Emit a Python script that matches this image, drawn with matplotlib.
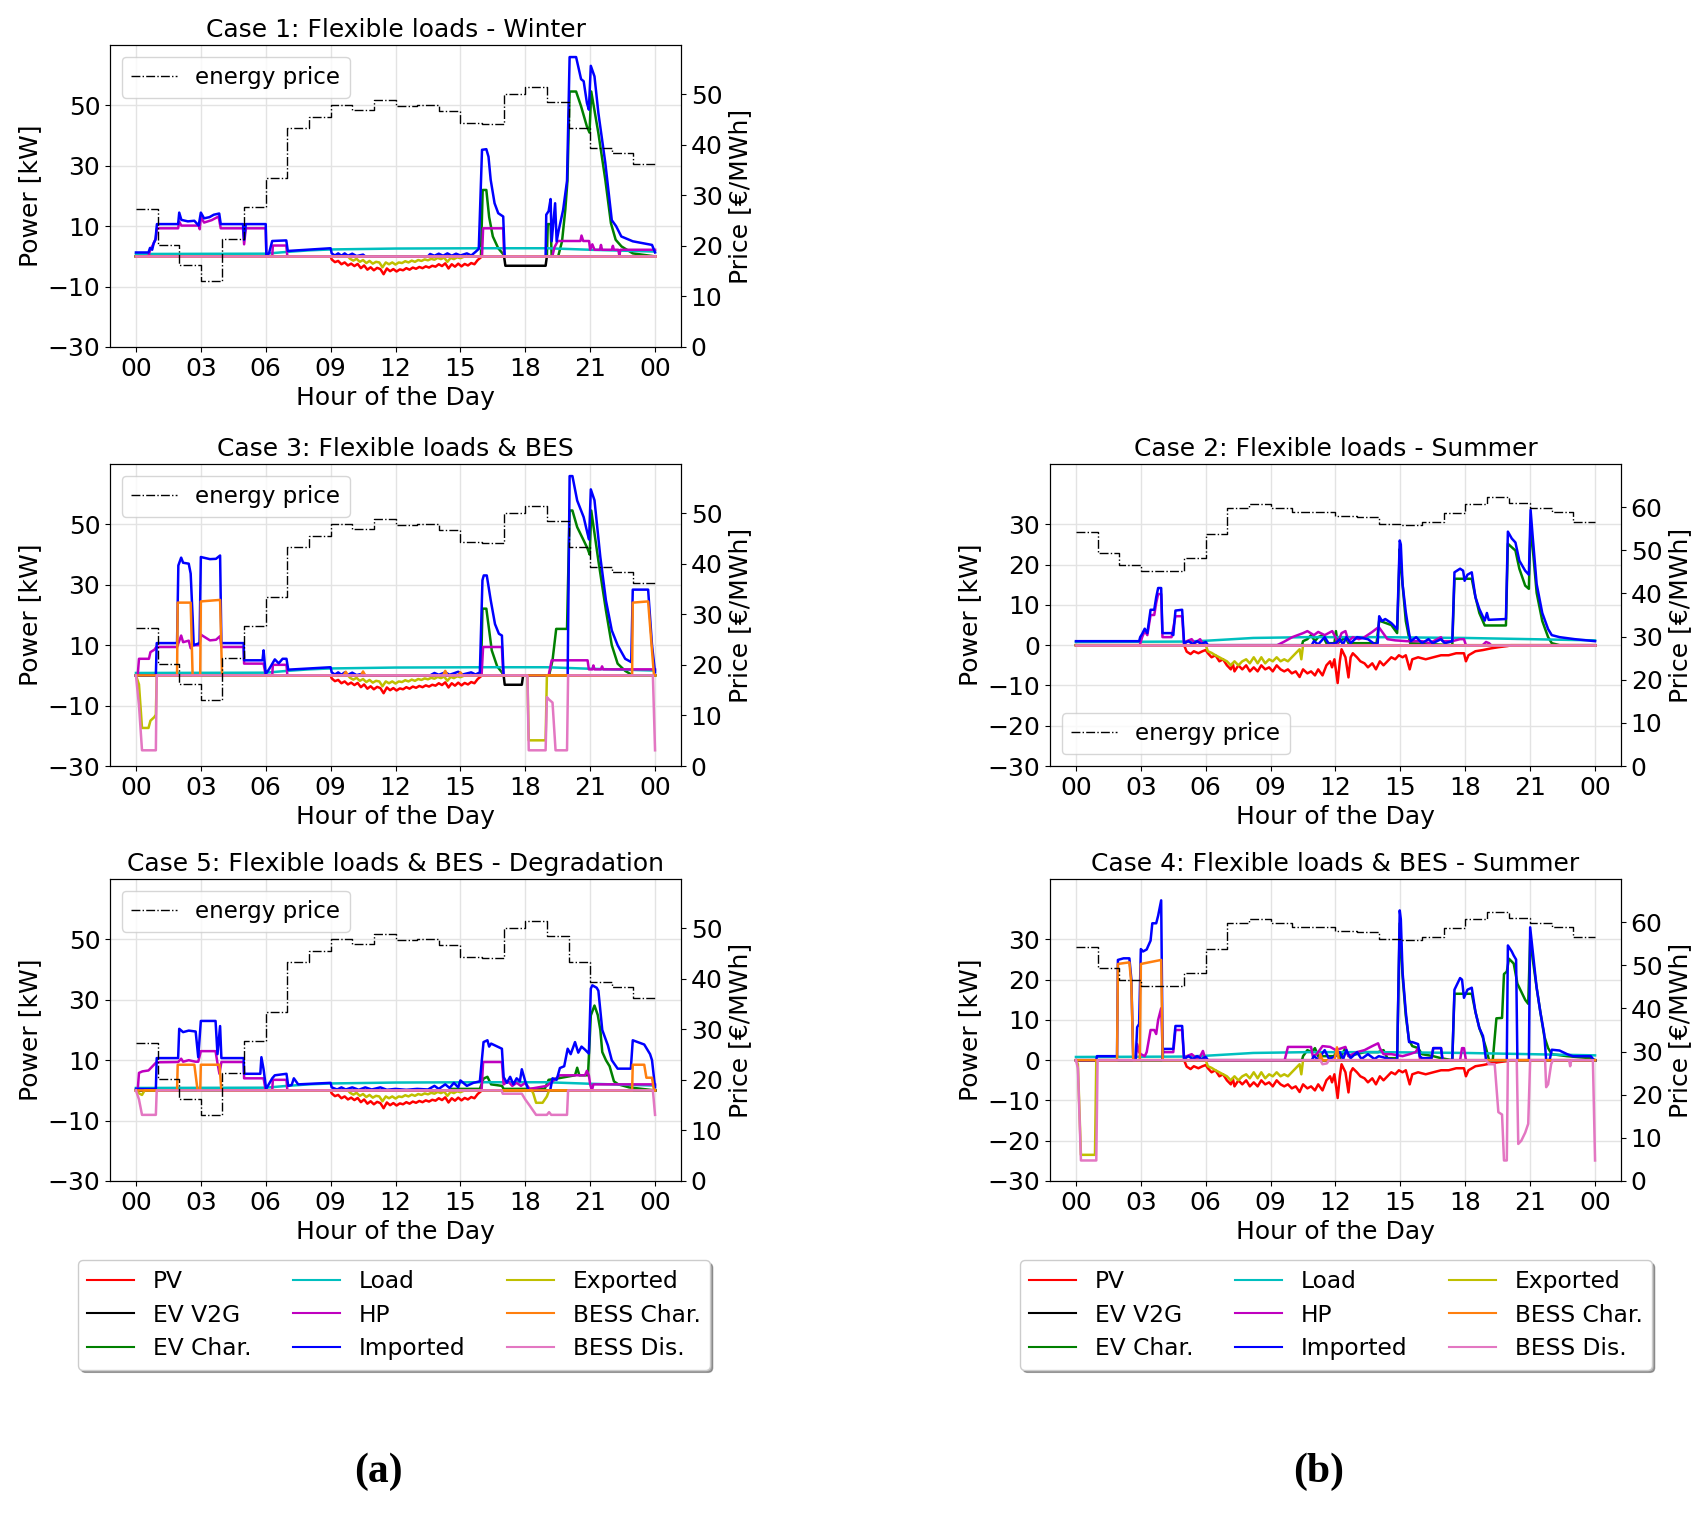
import numpy as np
import matplotlib
matplotlib.use("Agg")
import matplotlib.pyplot as plt
from matplotlib.lines import Line2D

# ---------------- data (hour, kW) ----------------
series_names = ['PV', 'EV V2G', 'EV Char.', 'Load', 'HP', 'Imported', 'Exported', 'BESS Char.', 'BESS Dis.']
series_colors = ['r', 'k', 'g', 'c', 'm', 'b', 'y', 'tab:orange', 'tab:pink']
hour_ticks = ['00', '03', '06', '09', '12', '15', '18', '21', '00']

# hourly energy price [EUR/MWh]
price_winter = [27.3, 20.1, 16.3, 13.1, 21.3, 27.7, 33.4, 43.3, 45.5, 47.9, 47.0, 49.0,
                47.7, 47.9, 46.8, 44.4, 44.1, 50.1, 51.5, 48.5, 43.4, 39.5, 38.4, 36.2]
price_summer = [54.3, 49.3, 46.5, 45.2, 45.2, 48.2, 53.8, 59.7, 60.8, 59.8, 58.8, 58.8,
                58.0, 57.7, 56.1, 55.9, 56.5, 58.7, 60.7, 62.3, 61.0, 59.8, 58.8, 56.5]

zero = [(0, 0), (24, 0)]

# winter (shared by cases 1, 3, 5)
w_pv = [(0, 0), (9.0, 0), (9.05, -1.0), (9.2, -1.9), (9.35, -1.5), (9.5, -2.6), (9.65, -2.0), (9.8, -3.0),
        (9.95, -2.4), (10.1, -3.2), (10.25, -2.5), (10.4, -3.9), (10.55, -3.0), (10.7, -4.4), (10.85, -3.6),
        (11.0, -4.6), (11.15, -3.8), (11.3, -4.2), (11.45, -5.9), (11.6, -4.0), (11.75, -4.9), (11.9, -4.2),
        (12.05, -5.0), (12.2, -4.3), (12.35, -4.6), (12.5, -3.9), (12.65, -4.4), (12.8, -3.7), (12.95, -4.1),
        (13.1, -3.5), (13.25, -3.9), (13.4, -3.3), (13.55, -3.7), (13.7, -3.1), (13.85, -3.4), (14.0, -2.6),
        (14.15, -3.2), (14.3, -2.3), (14.45, -4.0), (14.6, -2.6), (14.75, -3.4), (14.9, -2.4), (15.05, -3.3),
        (15.2, -2.5), (15.35, -3.0), (15.5, -2.2), (15.65, -2.6), (15.8, -1.2), (16.0, 0), (24, 0)]
w_exp_mid = [(9.9, -0.8), (10.05, -1.4), (10.2, -0.8), (10.35, -1.8), (10.5, -1.2), (10.65, -2.2), (10.8, -1.5),
             (10.95, -2.4), (11.1, -1.8), (11.25, -2.0), (11.4, -3.6), (11.55, -2.0), (11.7, -2.6), (11.85, -2.0),
             (12.0, -2.7), (12.15, -2.0), (12.3, -2.2), (12.45, -1.6), (12.6, -2.0), (12.75, -1.4), (12.9, -1.8),
             (13.05, -1.2), (13.2, -1.5), (13.35, -1.0), (13.5, -1.3), (13.65, -0.8), (13.8, -1.1), (13.95, -0.5),
             (14.1, -0.9), (14.25, -0.4), (14.4, -1.8), (14.55, -0.5), (14.7, -0.9), (14.85, -0.3), (15.0, -0.6)]
w_load = [(0, 0.8), (6.0, 0.9), (7.0, 1.5), (8.0, 2.0), (9.0, 2.3), (12.0, 2.6), (16.0, 2.7), (19.0, 2.7),
          (21.0, 2.2), (24.0, 1.6)]

# Case 1
c1_imp = [(0, 1.3), (0.58, 1.3), (0.65, 2.8), (0.75, 2.2), (0.82, 4.4), (0.9, 5.5), (0.97, 10.7), (1.95, 10.7),
          (2.0, 14.5), (2.1, 12.1), (2.4, 11.6), (2.7, 11.8), (2.9, 10.2), (3.0, 14.5), (3.15, 12.6), (3.4, 13.0),
          (3.6, 13.8), (3.85, 14.2), (3.92, 10.7), (4.95, 10.7), (5.0, 5.5), (5.08, 10.7), (6.0, 10.7), (6.03, 0.3),
          (6.15, 1.0), (6.3, 5.1), (6.95, 5.3), (7.02, 1.8), (9.0, 2.7), (9.05, 1.0), (9.2, 0.3), (9.35, 1.0),
          (9.5, 0.2), (9.65, 1.0), (9.8, 0.2), (10.0, 0.9), (10.2, 0.1), (10.5, 0.6), (10.6, 0), (13.5, 0),
          (13.6, 0.8), (13.8, 0.2), (14.0, 0.9), (14.2, 0.2), (14.4, 1.0), (14.6, 0.2), (14.8, 0.9), (15.0, 0.3),
          (15.3, 1.0), (15.5, 0.3), (15.7, 1.5), (15.85, 2.5), (16.0, 35.3), (16.2, 35.5), (16.3, 33.0),
          (16.4, 25.4), (16.58, 17.6), (16.75, 14.3), (16.98, 13.2), (17.05, 0), (18.94, 0), (18.97, 13.8),
          (19.08, 15.0), (19.17, 19.0), (19.22, 5.0), (19.38, 17.6), (19.45, 5.0), (19.55, 8.8), (19.75, 15.4),
          (19.93, 25.0), (20.05, 66.0), (20.35, 66.0), (20.58, 58.7), (20.7, 58.0), (20.85, 50.8), (20.94, 48.6),
          (21.03, 63.1), (21.2, 59.6), (21.38, 47.5), (21.7, 31.0), (22.0, 12.0), (22.2, 10.0), (22.44, 6.6),
          (22.97, 5.0), (23.86, 3.8), (24.0, 1.3)]
c1_evc = [(0, 0), (15.95, 0), (16.03, 22.0), (16.2, 22.0), (16.33, 13.0), (16.5, 6.6), (16.75, 2.7), (16.95, 1.0),
          (17.05, 0), (19.0, 0), (19.04, 10.7), (19.17, 10.7), (19.22, 0), (19.52, 0), (19.7, 5.0), (19.85, 15.4),
          (19.95, 25.0), (20.05, 54.6), (20.35, 54.6), (20.58, 49.7), (20.85, 43.0), (20.97, 41.0), (21.05, 54.6),
          (21.38, 40.8), (21.7, 25.4), (21.96, 11.0), (22.18, 5.5), (22.45, 3.3), (22.97, 1.0), (24.0, 0)]
c1_hp = [(0, 0), (0.58, 0), (0.65, 2.0), (0.8, 4.0), (0.92, 6.0), (0.97, 9.3), (1.95, 9.3), (2.0, 11.5),
         (2.1, 10.2), (2.9, 10.2), (2.95, 9.0), (3.0, 13.0), (3.15, 11.2), (3.5, 12.0), (3.82, 13.2), (3.92, 9.3),
         (4.95, 9.3), (5.0, 4.0), (5.08, 9.3), (6.0, 9.3), (6.03, 0), (6.3, 0), (6.33, 3.6), (6.95, 3.6), (7.0, 0),
         (16.0, 0), (16.05, 9.3), (16.98, 9.3), (17.02, 0), (19.25, 0), (19.35, 3.0), (19.5, 5.1), (20.55, 5.1),
         (20.6, 6.9), (20.68, 5.1), (20.95, 5.1), (21.0, 2.2), (21.1, 4.0), (21.2, 2.2), (21.45, 2.2), (21.5, 3.8),
         (21.55, 2.2), (22.0, 2.2), (22.05, 3.5), (22.1, 2.2), (22.3, 2.2), (22.35, 0.3), (22.4, 2.2), (24.0, 2.2)]
c1_v2g = [(0, 0), (17.02, 0), (17.08, -3.1), (18.94, -3.1), (19.0, 0), (24, 0)]
c1_exp = [(0, 0), (9.8, 0)] + w_exp_mid + [(15.2, 0), (24, 0)]

# Case 3
c3_imp = [(0, 0), (0.92, 0), (0.96, 10.7), (1.9, 10.7), (1.96, 36.4), (2.09, 39.0), (2.18, 37.3), (2.44, 37.0),
          (2.53, 33.7), (2.62, 19.3), (2.67, 10.0), (2.94, 10.7), (3.0, 39.2), (3.42, 38.5), (3.7, 38.6),
          (3.89, 39.7), (3.95, 10.7), (4.98, 10.7), (5.0, 5.0), (5.85, 5.0), (5.9, 8.3), (6.0, 0.5), (6.15, 2.0),
          (6.42, 5.3), (6.6, 4.0), (6.78, 5.5), (6.96, 5.5), (7.04, 1.9), (9.0, 2.7), (9.05, 1.0), (9.2, 0.3),
          (9.35, 1.0), (9.5, 0.2), (9.65, 1.0), (9.8, 0.2), (10.0, 0.9), (10.2, 0.1), (10.5, 0.6), (10.6, 0),
          (13.6, 0), (13.8, 0.8), (14.0, 0.2), (14.3, 1.0), (14.5, 0.2), (14.9, 1.2), (15.1, 0.3), (15.5, 1.0),
          (15.7, 0.3), (15.9, 1.0), (16.02, 31.5), (16.08, 33.1), (16.22, 33.1), (16.4, 25.0), (16.6, 17.0),
          (16.78, 13.8), (16.92, 13.2), (17.0, 0), (19.96, 0), (20.05, 66.0), (20.18, 66.0), (20.4, 57.9),
          (20.7, 52.4), (20.88, 46.9), (20.95, 45.0), (21.03, 61.6), (21.2, 58.0), (21.47, 39.2), (21.73, 24.8),
          (22.0, 14.9), (22.27, 10.0), (22.62, 5.5), (22.9, 4.4), (22.97, 28.4), (23.68, 28.4), (23.86, 10.0),
          (24.0, 1.0)]
c3_evc = [(0, 0), (15.95, 0), (16.02, 22.1), (16.2, 22.1), (16.33, 15.0), (16.45, 8.3), (16.7, 3.0), (16.92, 1.0),
          (17.0, 0), (19.1, 0), (19.26, 5.0), (19.43, 15.4), (19.93, 15.4), (19.99, 35.0), (20.05, 54.6),
          (20.18, 54.6), (20.4, 49.1), (20.7, 44.7), (20.88, 42.0), (20.98, 40.0), (21.05, 54.6), (21.38, 38.0),
          (21.73, 21.5), (22.0, 10.0), (22.27, 3.9), (22.62, 1.5), (22.97, 0), (24, 0)]
c3_hp = [(0, 0), (0.08, 0), (0.14, 5.5), (0.6, 5.5), (0.67, 7.7), (0.85, 8.5), (0.94, 9.4), (1.9, 9.4),
         (2.09, 13.2), (2.18, 11.0), (2.44, 11.5), (2.53, 9.0), (2.62, 10.0), (2.94, 10.0), (3.0, 13.5),
         (3.42, 11.6), (3.7, 11.8), (3.89, 13.0), (3.95, 9.4), (4.98, 9.4), (5.0, 3.9), (5.9, 3.9), (6.0, 0),
         (6.3, 0), (6.33, 3.5), (6.96, 3.5), (7.0, 0), (15.98, 0), (16.05, 9.4), (16.92, 9.4), (16.98, 0),
         (19.08, 0), (19.22, 5.0), (20.88, 5.0), (20.94, 2.0), (21.1, 2.0), (21.15, 3.3), (21.2, 2.0), (21.5, 2.0),
         (21.55, 3.0), (21.6, 2.0), (24, 2.0)]
c3_bch = [(0, 0), (1.9, 0), (1.93, 24.1), (2.53, 24.1), (2.62, 0), (2.97, 0), (3.0, 24.5), (3.89, 25.0),
          (3.98, 0), (9.6, 0), (9.7, 1.2), (9.8, 0), (10.4, 0), (10.5, 1.3), (10.6, 0), (14.2, 0), (14.3, 1.5),
          (14.4, 0), (14.9, 0), (15.0, 1.0), (15.1, 0), (22.94, 0), (22.97, 24.1), (23.68, 24.5), (23.95, 0),
          (24, 0)]
c3_bdis = [(0, 0), (0.14, -10.0), (0.28, -24.8), (0.92, -24.8), (0.96, 0), (18.1, 0), (18.16, -24.8),
           (18.94, -24.8), (19.0, -7.2), (19.1, -8.0), (19.26, -9.0), (19.4, -24.8), (19.93, -24.8), (19.98, 0),
           (23.9, 0), (24.0, -24.8)]
c3_exp = ([(0, 0), (0.14, -3.0), (0.28, -17.4), (0.58, -17.4), (0.67, -15.0), (0.85, -13.8), (0.92, -13.0),
           (0.96, 0), (9.8, 0)] + w_exp_mid +
          [(15.2, 0), (18.1, 0), (18.16, -21.5), (18.94, -21.5), (19.0, 0), (24, 0)])
c3_v2g = [(0, 0), (17.0, 0), (17.05, -3.1), (17.84, -3.1), (17.9, 0), (24, 0)]

# Case 5
c5_imp = [(0, 0.5), (0.92, 0.5), (0.96, 10.7), (1.95, 10.7), (2.0, 20.4), (2.18, 19.3), (2.44, 19.8),
          (2.76, 19.5), (2.88, 11.0), (3.0, 23.0), (3.68, 23.0), (3.77, 12.0), (3.89, 21.3), (3.95, 10.7),
          (4.98, 10.7), (5.0, 5.5), (5.75, 5.5), (5.8, 11.0), (5.9, 7.0), (6.02, 0.5), (6.3, 4.0), (6.42, 5.0),
          (6.96, 5.5), (7.04, 1.5), (7.2, 1.8), (7.3, 4.0), (7.5, 2.0), (9.0, 2.5), (9.05, 1.0), (9.3, 0.3),
          (9.5, 1.0), (9.7, 0.3), (10.0, 1.0), (10.3, 0.2), (10.6, 1.0), (10.9, 0.3), (11.3, 1.0), (11.6, 0.2),
          (12.0, 0.5), (12.5, 0.2), (13.0, 0.5), (13.5, 0.3), (13.8, 1.5), (14.0, 0.5), (14.3, 2.0), (14.5, 0.8),
          (14.7, 2.5), (14.9, 1.0), (15.0, 3.3), (15.3, 1.5), (15.6, 2.5), (15.9, 3.0), (16.07, 16.0),
          (16.25, 16.6), (16.33, 14.5), (16.42, 15.5), (16.92, 13.8), (17.0, 4.4), (17.15, 2.5), (17.3, 4.5),
          (17.45, 2.0), (17.6, 4.0), (17.75, 3.0), (17.84, 7.0), (18.0, 3.0), (18.15, 0), (19.15, 0), (19.26, 4.0),
          (19.45, 3.5), (19.6, 7.4), (19.8, 8.0), (19.96, 13.8), (20.1, 12.0), (20.3, 16.0), (20.45, 12.5),
          (20.6, 14.5), (20.76, 13.5), (20.94, 12.2), (21.03, 33.7), (21.1, 34.8), (21.3, 34.0), (21.38, 33.0),
          (21.56, 20.0), (21.82, 14.9), (22.0, 10.0), (22.27, 7.2), (22.88, 7.2), (22.97, 16.6), (23.5, 15.2),
          (23.77, 12.0), (23.86, 10.0), (24.0, 1.0)]
c5_evc = [(0, 0), (14.5, 0), (14.6, 0.5), (15.9, 0.5), (16.07, 3.9), (16.25, 4.5), (16.42, 2.0), (16.92, 1.5),
          (17.0, 0.5), (18.9, 0.5), (19.08, 3.5), (19.52, 4.0), (20.3, 5.0), (20.4, 7.5), (20.5, 5.0), (20.9, 5.0),
          (21.03, 24.8), (21.2, 28.1), (21.35, 25.0), (21.47, 20.0), (21.56, 12.7), (21.73, 10.0), (21.9, 8.0),
          (22.1, 3.0), (22.3, 2.0), (22.8, 1.0), (24, 0)]
c5_hp = [(0, 0), (0.08, 0), (0.14, 5.8), (0.3, 6.3), (0.58, 6.6), (0.94, 9.3), (1.95, 9.4), (2.09, 10.5),
         (2.18, 9.5), (2.44, 10.0), (2.76, 9.5), (2.88, 9.5), (3.0, 13.0), (3.68, 13.0), (3.77, 9.0), (3.86, 5.5),
         (3.95, 9.4), (4.98, 9.4), (5.0, 4.0), (5.9, 4.0), (6.0, 0), (6.3, 0), (6.33, 3.5), (6.96, 3.5), (7.0, 0),
         (15.98, 0), (16.05, 9.4), (16.92, 9.4), (17.0, 2.0), (17.2, 3.0), (17.4, 1.5), (17.6, 2.5), (17.8, 1.5),
         (18.0, 2.5), (18.2, 0.5), (18.6, 1.0), (19.0, 1.5), (19.26, 3.0), (19.6, 5.0), (20.76, 5.0), (20.85, 6.5),
         (20.94, 5.0), (21.0, 2.0), (21.08, 0), (21.15, 2.0), (24, 2.0)]
c5_bch = [(0, 0), (1.9, 0), (1.93, 8.5), (2.7, 8.5), (2.85, 0), (2.97, 0), (3.0, 8.5), (3.86, 8.5), (3.95, 0),
          (22.94, 0), (22.97, 8.5), (23.5, 8.5), (23.6, 4.2), (23.86, 4.2), (23.95, 0), (24, 0)]
c5_bdis = [(0, 0), (0.14, -3.0), (0.28, -8.1), (0.92, -8.1), (0.96, 0), (16.9, 0), (16.96, -1.1), (17.84, -1.1),
           (18.0, -3.0), (18.2, -5.0), (18.5, -8.1), (19.0, -8.1), (19.1, -7.2), (19.2, -8.1), (19.93, -8.1),
           (19.98, 0), (23.9, 0), (24.0, -8.1)]
c5_exp = ([(0, 0), (0.14, -1.0), (0.28, -1.5), (0.4, 0), (9.8, 0)] + w_exp_mid +
          [(15.2, 0), (18.3, 0), (18.37, -1.0), (18.5, -4.1), (18.8, -4.1), (19.0, -2.0), (19.1, 0), (24, 0)])

# summer (shared by cases 2, 4)
s_pv = [(0, 0), (5.0, 0), (5.12, -1.6), (5.3, -2.2), (5.45, -1.5), (5.66, -2.0), (5.85, -1.5), (6.0, -1.2),
        (6.1, -2.0), (6.27, -3.0), (6.45, -2.5), (6.63, -4.0), (6.8, -3.5), (6.98, -5.0), (7.16, -6.0),
        (7.25, -4.5), (7.33, -6.5), (7.51, -5.0), (7.69, -6.0), (7.87, -5.0), (8.04, -6.5), (8.22, -5.5),
        (8.4, -6.5), (8.57, -5.0), (8.75, -6.0), (8.93, -5.5), (9.1, -6.5), (9.28, -5.0), (9.46, -6.0),
        (9.63, -6.5), (9.8, -6.0), (9.98, -7.0), (10.16, -6.5), (10.34, -7.9), (10.5, -6.0), (10.7, -7.0),
        (10.87, -6.5), (11.05, -7.5), (11.2, -6.0), (11.4, -7.5), (11.58, -5.0), (11.75, -4.0), (11.84, -5.5),
        (11.95, -3.5), (12.1, -9.4), (12.2, -4.0), (12.28, -1.0), (12.46, -3.0), (12.6, -8.0), (12.7, -3.0),
        (12.8, -2.0), (12.99, -3.0), (13.15, -4.0), (13.34, -4.5), (13.5, -5.5), (13.7, -4.5), (13.87, -6.0),
        (14.05, -4.0), (14.22, -5.0), (14.4, -4.0), (14.58, -3.0), (14.76, -3.5), (14.93, -2.5), (15.1, -3.0),
        (15.25, -2.5), (15.43, -6.0), (15.55, -3.5), (15.82, -3.0), (16.17, -3.5), (16.52, -3.0), (16.88, -2.5),
        (17.23, -2.5), (17.58, -2.0), (17.94, -2.0), (18.03, -4.0), (18.15, -2.5), (18.47, -1.5), (18.82, -1.2),
        (19.18, -0.8), (19.53, -0.5), (19.97, -0.2), (20.1, 0), (24, 0)]
s_exp_mid = [(6.0, 0), (6.1, -1.5), (6.27, -1.9), (6.45, -2.5), (6.63, -3.0), (6.8, -3.5), (6.98, -4.0),
             (7.16, -5.0), (7.33, -4.0), (7.51, -5.0), (7.69, -4.0), (7.87, -3.5), (8.04, -4.5), (8.22, -3.0),
             (8.4, -4.5), (8.57, -3.0), (8.75, -4.5), (8.93, -3.5), (9.1, -4.0), (9.28, -3.0), (9.46, -4.0),
             (9.63, -3.5), (9.8, -4.0), (9.98, -3.0), (10.16, -2.0), (10.34, -1.0), (10.42, -3.5), (10.5, 0)]
s_load = [(0, 0.8), (5.0, 0.9), (6.0, 1.1), (8.2, 1.8), (10.7, 2.0), (14.0, 2.0), (18.0, 1.8), (21.0, 1.5),
          (24, 1.2)]

# Case 2
c2_imp = [(0, 1.0), (2.92, 1.0), (2.97, 2.0), (3.06, 2.8), (3.18, 4.1), (3.3, 3.0), (3.45, 8.8), (3.62, 8.8),
          (3.71, 11.9), (3.8, 14.2), (3.94, 14.2), (4.0, 3.0), (4.42, 3.0), (4.5, 2.5), (4.6, 8.6), (4.91, 8.8),
          (5.0, 0.5), (5.2, 1.0), (5.4, 0.3), (5.6, 1.0), (5.8, 0.3), (6.0, 0.8), (6.1, 0), (10.9, 0), (11.0, 1.0),
          (11.2, 0.2), (11.5, 2.0), (11.7, 0.3), (12.0, 0.5), (12.2, 1.5), (12.35, 0.2), (12.5, 2.0), (12.7, 0.5),
          (13.0, 2.0), (13.5, 1.5), (13.8, 0.3), (13.95, 0.5), (14.02, 7.2), (14.15, 6.0), (14.3, 6.5),
          (14.58, 5.5), (14.85, 4.0), (14.97, 26.0), (15.02, 25.0), (15.1, 15.2), (15.25, 8.2), (15.4, 3.0),
          (15.48, 1.0), (15.73, 2.0), (16.0, 0.5), (16.3, 1.5), (16.5, 0.5), (16.88, 1.5), (17.05, 0.5),
          (17.4, 1.0), (17.5, 18.1), (17.76, 19.0), (17.9, 18.5), (17.97, 16.0), (18.1, 17.5), (18.3, 18.1),
          (18.47, 11.9), (18.65, 9.0), (18.9, 6.1), (19.0, 8.0), (19.08, 6.3), (19.88, 6.5), (19.97, 28.2),
          (20.15, 26.5), (20.32, 25.5), (20.5, 21.0), (20.77, 18.5), (20.94, 17.5), (21.02, 33.6), (21.12, 26.8),
          (21.3, 15.2), (21.56, 8.0), (21.83, 4.0), (22.0, 2.5), (22.36, 2.0), (23.06, 1.5), (24, 1.0)]
c2_evc = [(0, 0), (10.45, 0), (10.5, 1.0), (10.7, 1.5), (10.87, 2.5), (11.05, 1.0), (11.2, 2.0), (11.4, 2.5),
          (11.58, 0.5), (11.95, 0.5), (12.02, 3.5), (12.1, 0.5), (12.46, 2.0), (12.6, 0.5), (13.9, 0.5),
          (14.02, 6.1), (14.58, 5.0), (14.85, 3.0), (14.97, 23.9), (15.02, 20.0), (15.25, 6.0), (15.45, 0.5),
          (17.4, 0), (17.5, 16.5), (18.3, 16.5), (18.47, 12.0), (18.65, 8.0), (18.9, 4.9), (19.88, 4.9),
          (19.97, 25.2), (20.32, 23.5), (20.5, 19.0), (20.77, 14.8), (20.94, 14.0), (21.02, 30.1), (21.12, 24.0),
          (21.3, 13.0), (21.56, 6.0), (21.83, 2.0), (22.0, 0.5), (22.36, 0), (24, 0)]
c2_hp = [(0, 0), (2.95, 0), (3.06, 2.0), (3.18, 3.5), (3.3, 2.5), (3.45, 7.5), (3.62, 7.5), (3.71, 10.5),
         (3.8, 12.7), (3.94, 12.7), (4.0, 2.0), (4.42, 2.0), (4.6, 7.2), (4.91, 7.2), (5.0, 0), (5.12, 1.0),
         (5.35, 1.5), (5.5, 0.5), (5.74, 1.5), (5.9, 0), (9.3, 0), (9.6, 0.8), (10.0, 2.0), (10.5, 3.0),
         (10.7, 3.5), (11.0, 2.5), (11.2, 3.3), (11.5, 2.5), (11.85, 3.5), (12.0, 2.0), (12.1, 0.5), (12.28, 3.0),
         (12.46, 3.5), (12.6, 1.0), (12.8, 2.0), (13.08, 1.5), (13.34, 2.0), (13.7, 3.3), (13.87, 4.0),
         (14.0, 4.5), (14.2, 3.0), (14.4, 1.5), (14.76, 1.2), (15.3, 1.0), (16.0, 1.0), (16.35, 0.5), (16.88, 2.0),
         (16.95, 1.0), (17.4, 1.0), (17.76, 1.5), (17.94, 1.5), (18.03, 0), (18.8, 0), (18.96, 0.8), (19.1, 0.5),
         (19.2, 0), (24, 0)]
c2_exp = [(0, 0)] + s_exp_mid + [(24, 0)]

# Case 4
c4_imp = [(0, 0), (0.94, 0), (0.97, 1.0), (1.9, 1.0), (1.94, 24.9), (2.2, 25.3), (2.47, 25.3), (2.56, 20.2),
          (2.65, 0), (2.76, 0), (2.83, 8.2), (2.92, 9.0), (3.0, 27.6), (3.1, 27.0), (3.27, 27.5), (3.45, 29.7),
          (3.53, 34.0), (3.71, 34.0), (3.8, 35.9), (3.94, 39.7), (4.01, 0), (4.03, 2.8), (4.5, 2.8), (4.6, 8.5),
          (4.91, 8.5), (5.0, 0.3), (5.2, 1.0), (5.4, 0.3), (5.6, 1.0), (5.8, 0.3), (6.0, 0.8), (6.1, 0),
          (10.9, 0), (11.0, 1.0), (11.2, 0.2), (11.5, 2.5), (11.7, 0.3), (12.0, 1.0), (12.2, 2.0), (12.35, 0.2),
          (12.5, 2.5), (12.7, 0.5), (13.0, 2.0), (13.2, 0.3), (13.5, 1.5), (13.8, 0.3), (14.0, 1.0), (14.5, 0.3),
          (14.85, 0), (14.97, 37.2), (15.02, 35.0), (15.1, 21.9), (15.25, 12.0), (15.4, 4.5), (15.55, 4.5),
          (15.82, 4.0), (15.9, 1.0), (16.0, 0.5), (16.44, 0.5), (16.52, 3.0), (16.88, 3.0), (16.95, 0), (17.4, 0),
          (17.5, 17.5), (17.76, 20.4), (17.85, 20.0), (17.94, 15.5), (18.1, 17.5), (18.3, 18.0), (18.47, 12.0),
          (18.65, 8.0), (18.82, 6.0), (18.96, 0), (19.92, 0), (19.97, 28.5), (20.15, 27.0), (20.24, 26.0),
          (20.35, 25.0), (20.41, 0), (20.94, 0), (21.0, 33.0), (21.12, 27.0), (21.3, 18.0), (21.47, 12.0),
          (21.65, 6.5), (21.74, 0), (21.9, 0), (22.0, 2.6), (22.36, 2.4), (22.71, 1.5), (22.97, 1.0), (23.8, 1.0),
          (23.95, 0), (24, 0)]
c4_evc = [(0, 0), (10.45, 0), (10.5, 1.0), (10.7, 2.5), (10.9, 2.0), (11.05, 3.0), (11.2, 1.0), (11.95, 1.0),
          (12.02, 2.5), (12.2, 0.5), (12.46, 3.0), (12.6, 1.0), (13.34, 2.0), (13.97, 2.0), (14.22, 2.5),
          (14.4, 0.5), (14.85, 0.5), (14.97, 34.0), (15.1, 21.0), (15.25, 11.0), (15.4, 5.0), (15.55, 3.5),
          (15.82, 3.0), (16.0, 1.5), (16.52, 1.0), (16.88, 0.5), (17.4, 0), (17.5, 16.5), (18.3, 16.5),
          (18.47, 12.0), (18.65, 8.0), (18.82, 5.5), (18.96, 3.0), (19.1, 0), (19.27, 0), (19.44, 10.4),
          (19.7, 10.5), (19.79, 21.4), (19.92, 22.0), (20.02, 25.2), (20.24, 24.0), (20.41, 19.0), (20.59, 17.0),
          (20.77, 15.0), (20.91, 14.0), (21.0, 30.0), (21.12, 25.0), (21.3, 18.0), (21.47, 12.0), (21.65, 6.0),
          (21.83, 3.0), (22.0, 1.5), (22.7, 1.0), (23.8, 0.5), (24, 0)]
c4_hp = [(0, 0), (2.76, 0), (2.83, 4.0), (2.92, 2.0), (3.0, 1.5), (3.18, 1.0), (3.27, 2.0), (3.45, 7.5),
         (3.62, 7.5), (3.71, 6.5), (3.8, 10.0), (3.94, 12.9), (4.01, 2.0), (4.5, 2.0), (4.6, 7.5), (4.91, 7.5),
         (5.0, 0), (5.12, 1.0), (5.35, 1.5), (5.57, 0.5), (5.75, 1.0), (5.87, 2.3), (6.0, 0), (9.65, 0),
         (9.8, 3.3), (10.87, 3.3), (10.95, 1.0), (11.13, 1.5), (11.4, 3.5), (11.75, 3.3), (12.02, 2.5),
         (12.46, 3.3), (12.6, 1.0), (12.99, 2.0), (13.34, 2.5), (13.7, 3.5), (13.97, 4.2), (14.05, 3.0),
         (14.22, 1.5), (14.58, 1.5), (15.1, 1.0), (15.43, 1.5), (15.7, 2.0), (15.82, 3.0), (15.9, 0.5),
         (16.44, 0.5), (16.52, 3.0), (16.88, 3.0), (16.95, 0), (17.76, 0), (17.85, 3.0), (17.94, 3.0),
         (18.03, 0), (24, 0)]
c4_bch = [(0, 0), (1.9, 0), (1.94, 23.9), (2.47, 24.3), (2.56, 19.0), (2.65, 0), (2.95, 0), (3.0, 23.9),
          (3.94, 24.9), (4.01, 0), (11.25, 0), (11.3, 1.5), (11.4, 0), (11.95, 0), (12.07, 3.2), (12.15, 0),
          (24, 0)]
c4_bdis = [(0, 0), (0.09, -2.0), (0.23, -24.9), (0.94, -24.9), (1.0, 0), (11.3, 0), (11.4, -1.0), (11.6, -0.8),
           (11.7, 0), (18.96, 0), (19.1, -1.0), (19.36, -1.0), (19.53, -12.9), (19.7, -13.5), (19.79, -24.9),
           (19.92, -24.9), (19.97, 0), (20.38, 0), (20.45, -20.8), (20.59, -20.0), (20.77, -18.0), (20.91, -15.8),
           (21.0, 0), (21.69, 0), (21.74, -6.7), (21.83, -6.0), (21.97, -1.0), (22.05, 0), (22.8, 0),
           (22.85, -1.5), (22.9, 0), (23.9, 0), (24.0, -24.9)]
c4_exp = [(0, 0), (0.09, -1.0), (0.23, -23.5), (0.88, -23.5), (0.94, 0)] + s_exp_mid + [(24, 0)]


def xy(pairs):
    a = np.array(pairs, dtype=float)
    return a[:, 0], a[:, 1]


fig = plt.figure(figsize=(17.06, 15.15), dpi=100)
FS = 18


def draw_panel(rect, title, data, price, price_top, price_ticks, ylim, yticks, leg_loc):
    ax = fig.add_axes(rect)
    for pairs, color, name in zip(data, series_colors, series_names):
        t, v = xy(pairs)
        ax.plot(t, v, color=color, lw=1.8, label=name)
    ax.set_xlim(-1.2, 25.2)
    ax.set_ylim(*ylim)
    ax.set_yticks(yticks)
    ax.set_xticks(range(0, 25, 3))
    ax.set_xticklabels(hour_ticks)
    ax.grid(True, color='#e3e3e3', lw=1)
    ax.tick_params(labelsize=FS)
    ax.set_xlabel('Hour of the Day', fontsize=FS)
    ax.set_ylabel('Power [kW]', fontsize=FS)
    ax.set_title(title, fontsize=FS)

    ax2 = ax.twinx()
    ph = np.arange(25)
    pv = np.append(price, price[-1])
    ax2.plot(ph, pv, 'k-.', lw=1.0, drawstyle='steps-post', label='energy price')
    ax2.set_ylim(0, price_top)
    ax2.set_yticks(price_ticks)
    ax2.tick_params(labelsize=FS)
    ax2.set_ylabel('Price [€/MWh]', fontsize=FS)
    if leg_loc is not None:
        ax2.legend(loc=leg_loc, fontsize=16.6)
    return ax


left_x, right_x, w = 110 / 1706, 1050 / 1706, 571 / 1706
h = 302 / 1515
rows = [1 - 347 / 1515, 1 - 766 / 1515, 1 - 1181 / 1515]

wt = [-30, -10, 10, 30, 50]
st = [-30, -20, -10, 0, 10, 20, 30]
wpt = [0, 10, 20, 30, 40, 50]
spt = [0, 10, 20, 30, 40, 50, 60]

draw_panel([left_x, rows[0], w, h], 'Case 1: Flexible loads - Winter',
           [w_pv, c1_v2g, c1_evc, w_load, c1_hp, c1_imp, c1_exp, zero, zero],
           price_winter, 59.8, wpt, (-30, 70), wt, 'upper left')
draw_panel([left_x, rows[1], w, h], 'Case 3: Flexible loads & BES',
           [w_pv, c3_v2g, c3_evc, w_load, c3_hp, c3_imp, c3_exp, c3_bch, c3_bdis],
           price_winter, 59.8, wpt, (-30, 70), wt, 'upper left')
draw_panel([left_x, rows[2], w, h], 'Case 5: Flexible loads & BES - Degradation',
           [w_pv, zero, c5_evc, w_load, c5_hp, c5_imp, c5_exp, c5_bch, c5_bdis],
           price_winter, 59.8, wpt, (-30, 70), wt, 'upper left')
draw_panel([right_x, rows[1], w, h], 'Case 2: Flexible loads - Summer',
           [s_pv, zero, c2_evc, s_load, c2_hp, c2_imp, c2_exp, zero, zero],
           price_summer, 70, spt, (-30, 45), st, 'lower left')
draw_panel([right_x, rows[2], w, h], 'Case 4: Flexible loads & BES - Summer',
           [s_pv, zero, c4_evc, s_load, c4_hp, c4_imp, c4_exp, c4_bch, c4_bdis],
           price_summer, 70, spt, (-30, 45), st, None)

handles = [Line2D([], [], color=c, lw=1.5) for c in series_colors]
for cx in (394 / 1706, 1336 / 1706):
    fig.legend(handles, series_names, loc='center', bbox_to_anchor=(cx, 1 - 1315 / 1515), ncol=3,
               fontsize=16.8, labelspacing=0.46, columnspacing=1.8, shadow=True, fancybox=True)

fig.text(378 / 1706, 1 - 1472 / 1515, '(a)', ha='center', va='center', fontsize=30,
         fontweight='bold', family='Liberation Serif')
fig.text(1319 / 1706, 1 - 1472 / 1515, '(b)', ha='center', va='center', fontsize=30,
         fontweight='bold', family='Liberation Serif')

fig.savefig('out.png', dpi=100)
